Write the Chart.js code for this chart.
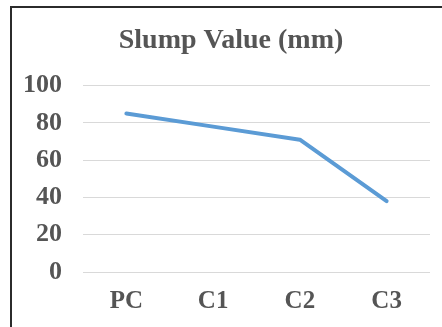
<!DOCTYPE html>
<html>
<head>
<meta charset="utf-8">
<script src="https://cdn.jsdelivr.net/npm/chart.js@4/dist/chart.umd.min.js"></script>
<style>
  html, body { margin: 0; padding: 0; background: #fff; overflow: hidden; }
  #wrap { position: relative; width: 442px; height: 327px; }
  #chart { position: absolute; left: 0; top: 0; }
  /* frame: only the top and left edges fall inside the view */
  #frame {
    position: absolute; left: 10px; top: 6px; width: 460px; height: 340px;
    border-left: 2px solid #2b2b2b; border-top: 2px solid #2b2b2b;
    pointer-events: none; box-sizing: border-box;
  }
</style>
</head>
<body>
<div id="wrap">
  <canvas id="chart" width="442" height="327"></canvas>
  <div id="frame"></div>
</div>
<script>
// Slump test results per mix
const categories = ['PC', 'C1', 'C2', 'C3'];
const slumpValues = [85, 78, 71, 38];
const yTicks = [0, 20, 40, 60, 80, 100];
const chartTitle = 'Slump Value (mm)';

const serif = "'Liberation Serif', 'Times New Roman', Times, serif";
const textGray = '#555555';

new Chart(document.getElementById('chart'), {
  type: 'line',
  data: {
    labels: categories,
    datasets: [{
      label: chartTitle,
      data: slumpValues,
      borderColor: '#5B9BD5',
      borderWidth: 4,
      borderCapStyle: 'round',
      borderJoinStyle: 'round',
      pointRadius: 0,
      pointHoverRadius: 0,
      tension: 0,
      fill: false
    }]
  },
  options: {
    responsive: false,
    animation: false,
    events: [],
    layout: { padding: { left: 20, right: 0, top: 0, bottom: 0 } },
    plugins: {
      legend: { display: false },
      tooltip: { enabled: false },
      title: {
        display: true,
        text: chartTitle,
        color: textGray,
        font: { family: serif, size: 28, weight: 'bold' },
        padding: { top: 24, bottom: 28 }
      }
    },
    scales: {
      x: {
        offset: true,
        grid: { display: false, drawTicks: false },
        border: { display: false },
        ticks: {
          color: textGray,
          padding: 15,
          font: { family: serif, size: 25, weight: 'bold' }
        },
        afterFit: (s) => { s.height = 55; }
      },
      y: {
        min: 0,
        max: 100,
        afterBuildTicks: (s) => { s.ticks = yTicks.map(v => ({ value: v })); },
        grid: { color: '#d9d9d9', lineWidth: 1, drawTicks: false },
        border: { display: false },
        ticks: {
          color: textGray,
          padding: 21,
          font: { family: serif, size: 26, weight: 'bold' }
        },
        afterFit: (s) => { s.width = 63; }
      },
      yRight: {
        position: 'right',
        display: true,
        min: 0,
        max: 100,
        grid: { display: false, drawTicks: false },
        border: { display: false },
        ticks: { display: false },
        afterFit: (s) => { s.width = 12; }
      }
    }
  }
});
</script>
</body>
</html>
